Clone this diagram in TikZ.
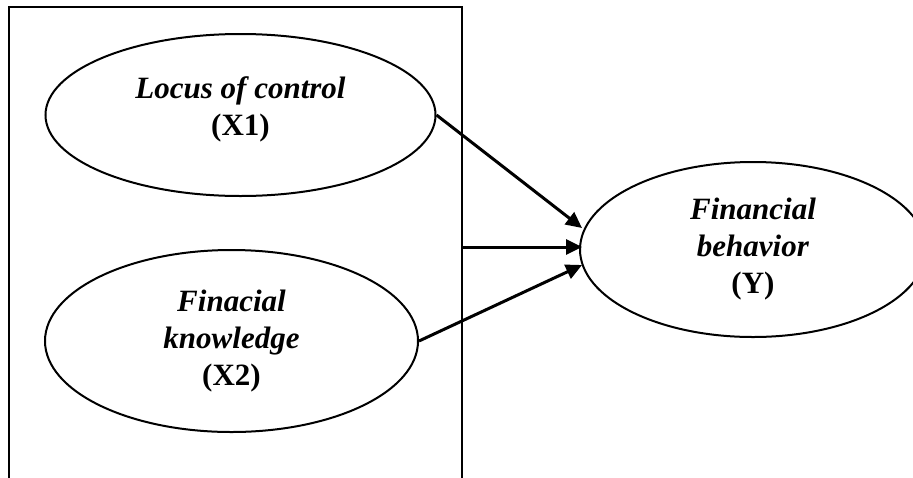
\documentclass[tikz,border=0pt]{standalone}
\usepackage{fontspec}
\setmainfont{Liberation Serif}
\usepackage{tikz}
\usetikzlibrary{shapes.geometric,arrows.meta}
\tikzset{var/.style={
    ellipse,
    draw,
    line width=1pt,
    inner sep=0pt,
    align=center,
    font=\fontsize{15.5}{18.5}\selectfont},
  path/.style={
    -{Triangle[length=8pt,width=7.5pt]},
    line width=1.5pt}}
\newcommand{\varname}[1]{\textbf{\textit{#1}}}

\begin{document}
\begin{tikzpicture}[x=0.5pt,y=-0.5pt]

\useasboundingbox (0,0) rectangle (913,477);

\coordinate (X1) at (240.5,115);
\coordinate (X2) at (231.5,341);
\coordinate (Y) at (753,249.5);
\coordinate (F) at (462,247);
\coordinate (T1) at (582,228);
\coordinate (T2) at (582,247);
\coordinate (T3) at (582,265);

% frame round the independent variables
\draw[line width=1pt] (9,480) -- (9,7) -- (462,7) -- (462,480);

\node[var,
  minimum width=195pt,
  minimum height=81pt] (x1) at (X1)
  {\varname{Locus of control}\\ \textbf{(X1)}\\[-10pt]};

\node[var,
  minimum width=186.5pt,
  minimum height=91pt] (x2) at (X2)
  {\varname{Finacial}\\ \varname{knowledge}\\ \textbf{(X2)}};

\node[var,
  minimum width=173pt,
  minimum height=87.5pt] (y) at (Y)
  {\varname{Financial}\\ \varname{behavior}\\ \textbf{(Y)}};

\draw[path] (x1.east) -- (T1);
\draw[path] (F) -- (T2);
\draw[path] (x2.east) -- (T3);

\end{tikzpicture}
\end{document}
